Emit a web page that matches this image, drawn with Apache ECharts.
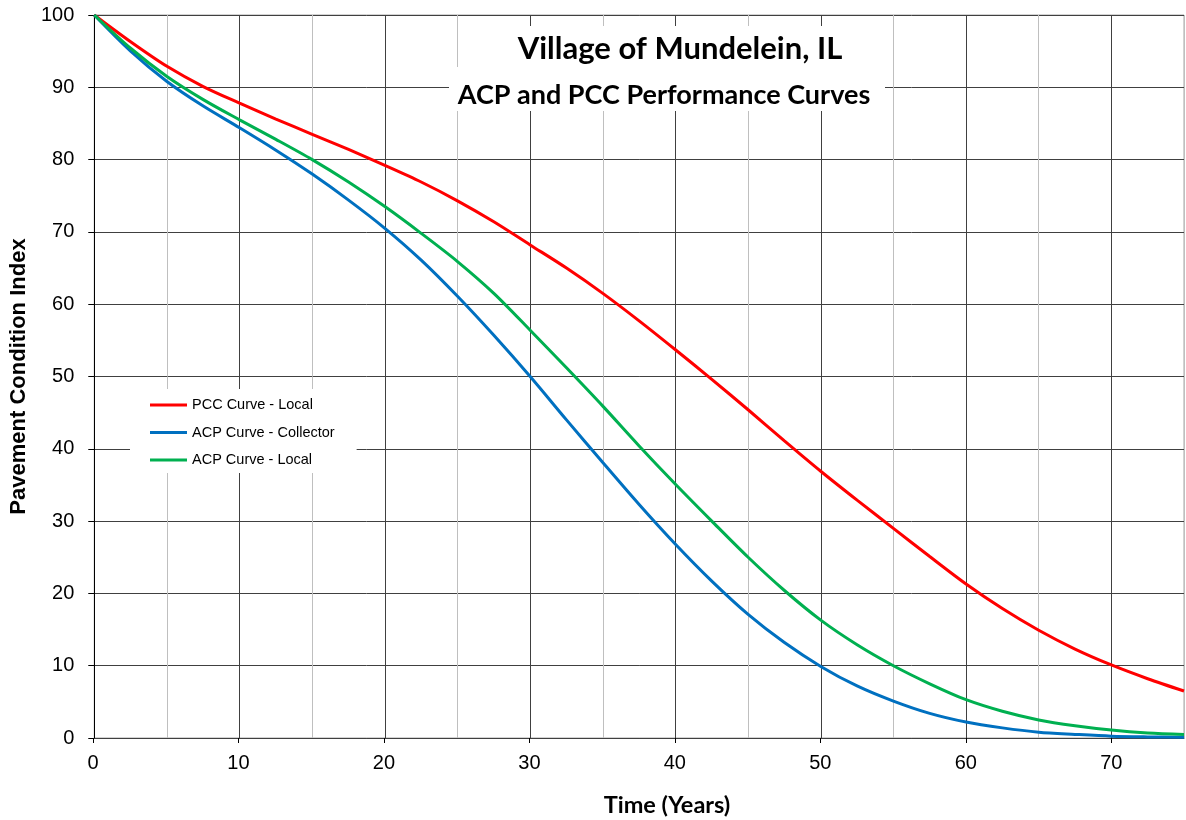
<!DOCTYPE html>
<html>
<head>
<meta charset="utf-8">
<script src="https://cdn.jsdelivr.net/npm/echarts@6/dist/echarts.min.js"></script>
<style>
html,body{margin:0;padding:0;background:#fff;}
#chart{width:1186px;height:820px;}
</style>
</head>
<body>
<div id="chart"></div>
<script>
// ---- Data ----
const years = [0, 2.5, 5, 7.5, 10, 12.5, 15, 17.5, 20, 22.5, 25, 27.5, 30, 32.5, 35, 37.5, 40, 42.5, 45, 47.5, 50, 52.5, 55, 57.5, 60, 62.5, 65, 67.5, 70, 72.5, 75];
const pccLocal = [100, 96.3, 92.9, 90.1, 87.8, 85.6, 83.5, 81.4, 79.2, 76.9, 74.3, 71.4, 68.2, 65.0, 61.5, 57.7, 53.7, 49.6, 45.4, 41.1, 36.9, 32.9, 29.0, 25.1, 21.3, 17.9, 14.9, 12.3, 10.1, 8.2, 6.5];
const acpCollector = [100, 95.0, 90.8, 87.4, 84.4, 81.3, 78.0, 74.4, 70.5, 66.1, 61.1, 55.7, 50.0, 44.0, 38.1, 32.3, 26.8, 21.7, 17.1, 13.2, 9.9, 7.2, 5.1, 3.4, 2.2, 1.4, 0.8, 0.5, 0.25, 0.15, 0.1];
const acpLocal = [100, 95.4, 91.5, 88.3, 85.5, 82.8, 80.0, 76.9, 73.5, 69.8, 65.9, 61.5, 56.4, 51.2, 45.9, 40.4, 35.1, 30.0, 25.0, 20.4, 16.3, 12.9, 10.0, 7.5, 5.3, 3.7, 2.5, 1.7, 1.1, 0.7, 0.5];
const seriesNames = ['PCC Curve - Local', 'ACP Curve - Collector', 'ACP Curve - Local'];
const titleText = 'Village of Mundelein, IL';
const subtitleText = 'ACP and PCC Performance Curves';
const xName = 'Time (Years)';
const yName = 'Pavement Condition Index';

const pairs = arr => years.map((x, i) => [x, arr[i]]);

const chart = echarts.init(document.getElementById('chart'), null, {renderer: 'canvas'});
const gridLeft = 93, gridTop = 15, gridBottom = 82, gridRight = 2;
const plotW = 1186 - gridLeft - gridRight;

const mk = (name, data, color) => ({
  name, type: 'line', data: pairs(data), xAxisIndex: 0, yAxisIndex: 0,
  symbol: 'none', smooth: 0.3,
  lineStyle: {color, width: 3}, itemStyle: {color}, z: 3
});

chart.setOption({
  animation: false,
  backgroundColor: '#fff',
  grid: [
    {left: gridLeft, right: gridRight, top: gridTop, bottom: gridBottom, show: true, borderColor: '#a6a6a6', borderWidth: 1},
    {left: gridLeft, width: plotW * 70 / 75, top: gridTop, bottom: gridBottom}
  ],
  xAxis: [
    {
      type: 'value', gridIndex: 0, min: 0, max: 75, interval: 5,
      axisLine: {show: true, onZero: false, lineStyle: {color: '#404040', width: 1}},
      axisTick: {show: false},
      axisLabel: {show: false},
      splitLine: {show: true, lineStyle: {color: ['#404040', '#bfbfbf'], width: 1}}
    },
    {
      type: 'value', gridIndex: 1, min: 0, max: 70, interval: 10,
      axisLine: {show: false},
      axisTick: {show: true, length: 5, lineStyle: {color: '#000'}},
      axisLabel: {show: true, margin: 15, fontSize: 20, color: '#000', fontFamily: 'Liberation Sans'},
      splitLine: {show: false}
    }
  ],
  yAxis: [
    {
      type: 'value', gridIndex: 0, min: 0, max: 100, interval: 10,
      name: yName, nameLocation: 'middle', nameGap: 62,
      nameTextStyle: {fontSize: 22, fontWeight: 'bold', color: '#000', fontFamily: 'Liberation Sans'},
      axisLine: {show: true, lineStyle: {color: '#000', width: 1}},
      axisTick: {show: true, length: 6, lineStyle: {color: '#000'}},
      axisLabel: {margin: 20, fontSize: 20, color: '#000', fontFamily: 'Liberation Sans'},
      splitLine: {show: true, lineStyle: {color: '#404040', width: 1}}
    },
    {type: 'value', gridIndex: 1, min: 0, max: 100, show: false}
  ],
  legend: {
    show: true, orient: 'vertical', left: 130, top: 389,
    data: seriesNames,
    icon: 'rect',
    itemWidth: 37, itemHeight: 3, itemGap: 12.5,
    padding: [8.5, 22, 5.5, 20],
    backgroundColor: '#fff',
    textStyle: {fontSize: 14.5, color: '#000', fontFamily: 'Liberation Sans'}
  },
  graphic: [
    {type: 'rect', shape: {x: 462, y: 26, width: 426, height: 42}, style: {fill: '#fff'}, z: 10},
    {type: 'rect', shape: {x: 449, y: 67, width: 436, height: 44}, style: {fill: '#fff'}, z: 10},
    {type: 'text', x: 680, y: 49, z: 11, style: {text: titleText, font: 'bold 31px Lato', fill: '#000', align: 'center', verticalAlign: 'middle'}},
    {type: 'text', x: 664, y: 95, z: 11, style: {text: subtitleText, font: 'bold 27px Lato', fill: '#000', align: 'center', verticalAlign: 'middle'}},
    {type: 'text', x: 667, y: 805, z: 11, style: {text: xName, font: 'bold 23.5px Lato', fill: '#000', align: 'center', verticalAlign: 'middle'}}
  ],
  series: [
    mk(seriesNames[0], pccLocal, '#ff0000'),
    mk(seriesNames[1], acpCollector, '#0070c0'),
    mk(seriesNames[2], acpLocal, '#00b050')
  ]
});
</script>
</body>
</html>
